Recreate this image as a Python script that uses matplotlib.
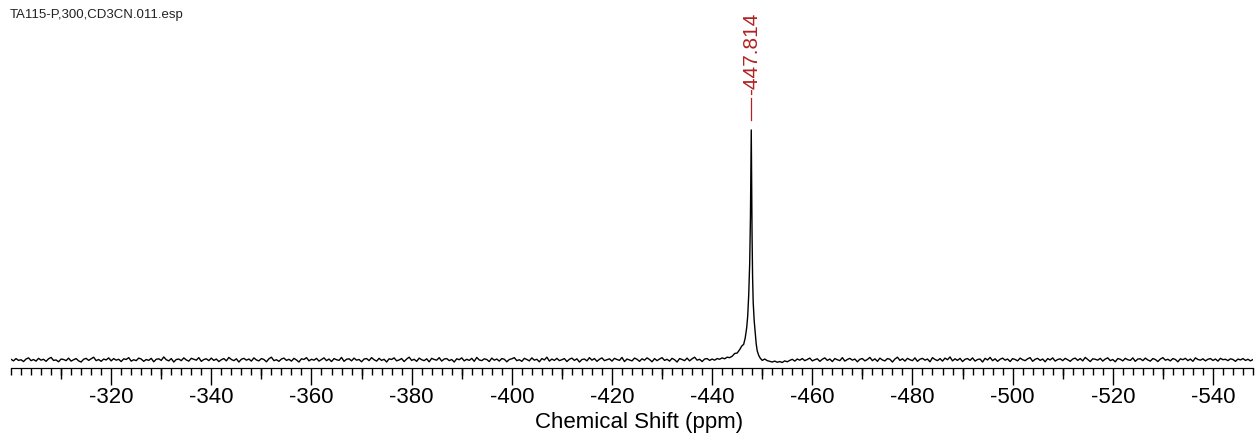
import numpy as np
import matplotlib.pyplot as plt
from matplotlib.ticker import MultipleLocator
import matplotlib.transforms as mtransforms

plt.rcParams['font.family'] = ['Liberation Sans', 'DejaVu Sans']
plt.rcParams['axes.unicode_minus'] = False

file_name = 'TA115-P,300,CD3CN.011.esp'
peak_pos = -447.814

# baseline, -300 -> -444 ppm (intensity in % of peak)
base_left = [0.3, -0.4, 0.6, -0.2, 0.1, -0.7, 0.4, 0.9, -0.3, 0.2, -0.5, 0.7, -0.1, 0.3, -0.6, 0.5, 1.1, -0.2, 0.0, -0.8,
             0.4, 0.2, -0.3, 0.8, -0.5, 0.1, 0.6, -0.4, -0.9, 0.3, 0.7, -0.2, 0.5, 1.2, -0.3, 0.2, -0.6, 0.4, 0.0, 0.9,
             -0.4, 0.6, -0.1, 0.3, -0.7, 0.5, 0.2, 1.0, -0.5, 0.1, -0.3, 0.8, 0.4, -0.6, 0.2, -0.2, 0.7, -0.8, 0.3, 0.5,
             -0.2, 1.3, 0.1, -0.4, 0.6, -0.9, 0.2, 0.4, -0.3, 0.9, 0.0, -0.5, 0.7, 0.3, -0.1, 1.0, -0.6, 0.2, 0.5, -0.3,
             0.8, -0.2, 0.4, -0.7, 0.1, 0.6, -0.4, 1.1, 0.2, -0.3, 0.5, -0.9, 0.3, 0.7, -0.1, 0.4, -0.5, 0.9, 0.0, -0.4,
             0.6, 0.2, -0.8, 0.5, 1.2, -0.3, 0.1, -0.6, 0.4, 0.8, -0.2, 0.3, -0.5, 0.7, 0.0, -0.9, 0.5, 0.2, 1.0, -0.4,
             0.3, -0.1, 0.7, -0.5, 0.2, 0.9, -0.3, 0.4, -0.7, 0.6, 0.1, -0.2, 1.1, -0.6, 0.3, 0.5, -0.4, 0.8, -0.1, 0.2,
             -0.8, 0.4, 0.6, -0.3, 1.0, 0.1, -0.5, 0.7, -0.2, 0.3, -0.9, 0.5, 0.2, 0.9, -0.4, 0.0, 0.6, -0.7, 0.4, 1.2,
             -0.2, 0.3, -0.6, 0.8, 0.1, -0.3, 0.5, -0.8, 0.7, 0.2, -0.1, 1.0, -0.5, 0.4, 0.6, -0.3, 0.2, -0.9, 0.5, 0.1,
             0.9, -0.4, 0.3, -0.2, 0.7, -0.6, 1.1, 0.0, -0.3, 0.5, 0.2, -0.7, 0.8, -0.1, 0.4, -0.5, 0.6, 0.3, -0.8, 0.2,
             0.5, 1.0, -0.3, 0.1, -0.6, 0.7, 0.2, -0.4, 0.9, -0.1, 0.3, -0.8, 0.6, 0.0, 1.2, -0.5, 0.4, -0.2, 0.7, -0.3,
             0.1, 0.6, -0.7, 0.3, 0.8, -0.2, 0.5, -0.9, 0.2, 0.4, -0.4, 1.0, -0.1, 0.6, -0.6, 0.3, 0.9, -0.3, 0.1, 0.5,
             -0.5, 0.7, 0.2, -0.2, 1.1, -0.7, 0.4, 0.0, -0.4, 0.8, 0.3, -0.6, 0.5, -0.1, 0.9, 0.2, -0.8, 0.6, -0.3, 0.4,
             1.0, -0.2, 0.3, -0.5, 0.7, 0.1, -0.9, 0.6, 0.2, -0.3, 0.8, -0.4, 0.5, 1.2, -0.1, 0.3, -0.7, 0.4, 0.6, -0.2,
             0.4, -0.1, 0.6, 0.3, 0.9, 0.5, 1.2, 1.0, 1.6]

# peak region
peak_ppm = [-444.5, -445.0, -445.5, -445.9, -446.3, -446.6, -446.9, -447.1, -447.3, -447.5, -447.65, -447.75,
            -447.814, -447.88, -447.97, -448.08, -448.2, -448.4, -448.6, -448.8, -449.0, -449.3, -449.6, -450.0, -450.5]
peak_int = [2.8, 3.0, 4.5, 6.0, 6.8, 9.5, 14, 19, 28, 42, 62, 85,
            100, 82, 55, 36, 25, 17, 12, 7, 4, 2, 0.8, -0.2, 0.4]

# baseline, -451 -> -548 ppm
base_right = [-0.3, -0.6, -0.9, -0.5, -1.0, -0.7, -1.1, -0.4, -0.8, -0.2, 0.3, -0.5, 0.4, -0.1, 0.6, -0.3, 0.2, 0.8, -0.4, 0.1,
              0.5, -0.6, 0.3, 0.9, -0.2, 0.4, -0.7, 0.6, 0.1, -0.3, 1.0, -0.5, 0.2, 0.7, -0.1, 0.4, -0.8, 0.3, 0.6, -0.4,
              0.2, 1.1, -0.3, 0.5, -0.6, 0.8, 0.0, -0.4, 0.6, 0.3, -0.9, 0.4, 1.2, -0.2, 0.5, -0.5, 0.7, 0.1, -0.3, 0.9,
              -0.6, 0.3, 0.7, -0.1, 0.4, -0.8, 1.0, 0.2, -0.3, 0.6, -0.5, 0.8, 0.1, 1.3, -0.4, 0.5, -0.2, 0.7, -0.7, 0.3,
              0.6, -0.2, 0.9, -0.5, 0.2, 0.4, -0.9, 0.7, 0.0, 1.1, -0.3, 0.5, -0.6, 0.3, 0.8, -0.1, 0.4, -0.7, 0.6, 0.2,
              -0.4, 0.8, 0.1, -0.3, 0.5, 1.0, -0.6, 0.3, 0.7, -0.2, 0.4, -0.8, 0.6, 0.0, 0.9, -0.5, 0.2, 0.5, -0.3, 0.7,
              0.1, -0.6, 0.4, 0.8, -0.2, 0.6, -0.4, 1.1, 0.2, -0.7, 0.5, 0.3, -0.1, 0.7, -0.5, 0.4, 0.9, -0.3, 0.2, -0.8,
              0.6, 0.3, -0.4, 0.7, 0.1, -0.2, 0.9, -0.6, 0.4, 0.5, -0.3, 0.8, 0.0, -0.5, 0.6, 0.2, -0.7, 0.4, 1.0, -0.1,
              0.3, -0.4, 0.6, 0.2, -0.8, 0.5, 0.1, 0.7, -0.3, 0.4, -0.6, 0.9, 0.2, -0.1, 0.5, -0.4, 0.3, 0.6, -0.2, 0.4,
              -0.5, 0.7, 0.1, 0.3, -0.3, 0.5, 0.2, -0.6, 0.4, 0.0, 0.6, -0.2, 0.3, -0.4, 0.2]

ppm = np.concatenate([np.linspace(-300, -444, len(base_left)), peak_ppm,
                      np.linspace(-451, -548, len(base_right))])
inten = np.concatenate([base_left, peak_int, base_right])

fig = plt.figure(figsize=(12.56, 4.34), dpi=100)
ax = fig.add_axes([11 / 1256, 66 / 434, 1242 / 1256, 368 / 434])
ax.plot(ppm, inten, color='black', lw=1.0)
ax.set_xlim(-300, -548)
ax.set_ylim(-3.5, 156.5)

for s in ['left', 'right', 'top']:
    ax.spines[s].set_visible(False)
ax.set_yticks([])
ax.xaxis.set_major_locator(MultipleLocator(20))
ax.xaxis.set_minor_locator(MultipleLocator(2))
ax.set_xticks(np.arange(-320, -541, -20))
ax.tick_params(axis='x', which='major', length=12, width=1, labelsize=16, pad=2)
ax.tick_params(axis='x', which='minor', length=5, width=1)

# medium ticks every 10 ppm
sec = ax.secondary_xaxis('bottom')
sec.set_xticks(np.arange(-310, -548, -20))
sec.set_xticklabels([])
sec.tick_params(length=8, width=1)

ax.set_xlabel('Chemical Shift (ppm)', fontsize=16)
ax.xaxis.set_label_coords(0.506, -0.147)
ax.xaxis.label.set_va('center')

# peak label
trans = mtransforms.blended_transform_factory(ax.transData, ax.transAxes)
ax.plot([peak_pos, peak_pos], [0.674, 0.734], color='#b22222', lw=0.9, transform=trans)
ax.text(peak_pos, 0.967, '%.3f' % peak_pos, rotation=90, color='#b22222', fontsize=15,
        ha='center', va='top', transform=trans)

fig.text(10 / 1256, 1 - 15 / 434, file_name, fontsize=9.5, va='center', ha='left', color='#222222')

fig.savefig('out.png', dpi=100)
